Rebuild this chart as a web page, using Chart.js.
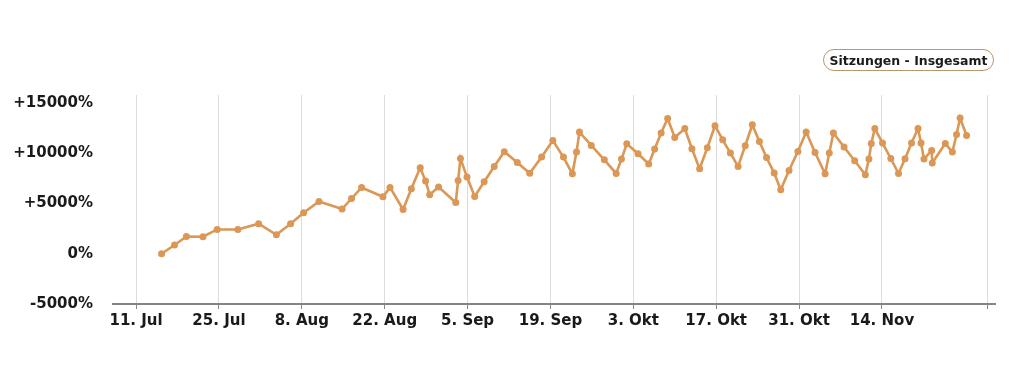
<!DOCTYPE html>
<html>
<head>
<meta charset="utf-8">
<script src="https://cdn.jsdelivr.net/npm/chart.js@4/dist/chart.umd.min.js"></script>
<style>
  html, body { margin: 0; padding: 0; background: #ffffff; }
  #wrap { position: relative; width: 1024px; height: 381px; }
  #legend {
    position: absolute; left: 823px; top: 49px; width: 171px; height: 22px;
    box-sizing: border-box; border: 1.5px solid #b9966f; border-radius: 11px;
    font: bold 12.5px "DejaVu Sans", sans-serif; color: #1a1a1a;
    display: flex; align-items: center; justify-content: center; white-space: nowrap;
  }
</style>
</head>
<body>
<div id="wrap">
  <canvas id="c" width="1024" height="381"></canvas>
  <div id="legend"></div>
</div>
<script>
// Series name
const seriesLabel = 'Sitzungen - Insgesamt';
// Days since 11. Jul for each point
const dayOffsets = [4.3, 6.5, 8.5, 11.3, 13.7, 17.2, 20.7, 23.7, 26.1, 28.3, 30.9,
  34.8, 36.4, 38.1, 41.7, 42.9, 45.1, 46.5, 48.0, 48.9, 49.6, 51.1,
  54.0, 54.4, 54.8, 55.9, 57.2, 58.8, 60.5, 62.2, 64.4, 66.5, 68.5,
  70.4, 72.2, 73.7, 74.4, 74.9, 76.9, 79.1, 81.1, 82.0, 82.9, 84.8,
  86.6, 87.6, 88.7, 89.8, 91.0, 92.7, 93.9, 95.2, 96.5, 97.8, 99.1,
  100.4, 101.7, 102.9, 104.1, 105.3, 106.5, 107.8, 108.9, 110.3, 111.8, 113.2,
  114.7, 116.4, 117.1, 117.8, 119.6, 121.4, 123.2, 123.8, 124.2, 124.8, 126.1,
  127.5, 128.8, 129.9, 131.0, 132.1, 132.6, 133.1, 134.4, 134.5, 136.7, 137.9,
  138.6, 139.2, 140.3];
// Percent change values
const percentValues = [0, 870, 1720, 1690, 2420, 2420, 2990, 1890, 2990, 4080, 5200,
  4450, 5500, 6600, 5670, 6600, 4410, 6470, 8560, 7230, 5870, 6640,
  5100, 7290, 9480, 7630, 5700, 7160, 8690, 10150, 9080, 8010, 9620,
  11270, 9620, 7960, 10120, 12110, 10780, 9350, 7990, 9420, 10950, 9950,
  8930, 10420, 12010, 13460, 11570, 12470, 10450, 8460, 10550, 12740, 11340,
  10020, 8690, 10750, 12840, 11170, 9580, 8030, 6370, 8290, 10180, 12110,
  10080, 7960, 10020, 12010, 10620, 9250, 7860, 9420, 10980, 12470, 11020,
  9480, 7990, 9450, 11020, 12470, 11020, 9420, 10280, 9030, 10980, 10120,
  11870, 13500, 11770];
// X tick positions (days since 11. Jul) and labels
const xTickDays = [0, 14, 28, 42, 56, 70, 84, 98, 112, 126];
const xTickLabels = ['11. Jul', '25. Jul', '8. Aug', '22. Aug', '5. Sep', '19. Sep', '3. Okt', '17. Okt', '31. Okt', '14. Nov'];
const xEdgeDay = 143.9;
const xMin = -3.9, xMax = 145.1;
// Y ticks
const yTickValues = [-5000, 0, 5000, 10000, 15000];
const yMin = -5000, yMax = 15800;

const points = dayOffsets.map((d, i) => ({ x: d, y: percentValues[i] }));
const lineColor = '#da9755';
const textColor = '#1a1a1a';

const htmlLegend = {
  id: 'htmlLegend',
  afterUpdate(chart) {
    const el = document.getElementById('legend');
    el.textContent = chart.data.datasets.map(d => d.label).join(' ');
  }
};

new Chart(document.getElementById('c'), {
  type: 'line',
  data: {
    datasets: [{
      label: seriesLabel,
      data: points,
      borderColor: lineColor,
      backgroundColor: lineColor,
      borderWidth: 2.6,
      pointRadius: 3.5,
      pointBackgroundColor: lineColor,
      pointBorderWidth: 0,
      tension: 0,
      fill: false
    }]
  },
  options: {
    responsive: false,
    animation: false,
    devicePixelRatio: 1,
    layout: { padding: { top: 95, right: 29, left: 0, bottom: 0 } },
    plugins: { legend: { display: false }, tooltip: { enabled: false } },
    scales: {
      x: {
        type: 'linear',
        min: xMin,
        max: xMax,
        afterBuildTicks(scale) {
          scale.ticks = xTickDays.map(v => ({ value: v })).concat([{ value: xEdgeDay }]);
        },
        afterFit(scale) { scale.height = 77; },
        ticks: {
          autoSkip: false,
          maxRotation: 0,
          padding: 3,
          color: textColor,
          font: { family: 'DejaVu Sans', size: 15, weight: 'bold' },
          callback(value, index) {
            const i = xTickDays.indexOf(value);
            return i >= 0 ? xTickLabels[i] : '';
          }
        },
        grid: {
          color: '#dcdcdc',
          lineWidth: 1,
          drawTicks: true,
          tickLength: 5,
          tickColor: '#8a8a8a'
        },
        border: { display: true, color: '#858585', width: 2 }
      },
      y: {
        min: yMin,
        max: yMax,
        afterBuildTicks(scale) {
          scale.ticks = yTickValues.map(v => ({ value: v }));
        },
        afterFit(scale) { scale.width = 113; },
        ticks: {
          padding: 20,
          color: textColor,
          font: { family: 'DejaVu Sans', size: 15, weight: 'bold' },
          callback(value) { return (value > 0 ? '+' : '') + value + '%'; }
        },
        grid: { display: false, drawTicks: false },
        border: { display: false }
      }
    }
  },
  plugins: [htmlLegend]
});
</script>
</body>
</html>
